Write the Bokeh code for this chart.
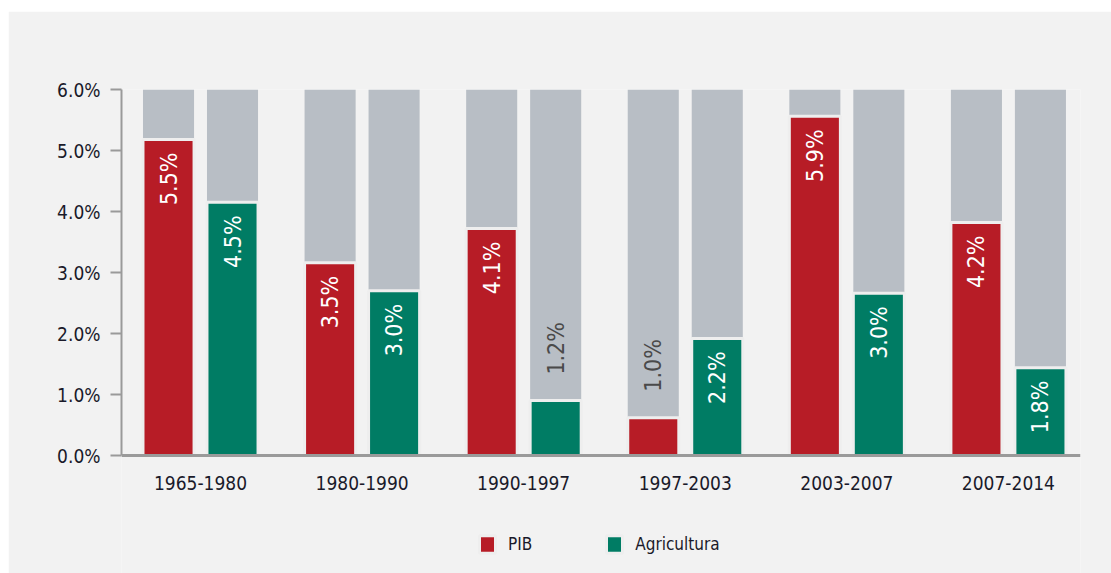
from bokeh.plotting import figure
from bokeh.models import (ColumnDataSource, Range1d, FixedTicker, Legend, LegendItem)
from bokeh.core.properties import value
from bokeh.embed import file_html
from bokeh.resources import INLINE

# ---- data ----
periods = ["1965-1980", "1980-1990", "1990-1997", "1997-2003", "2003-2007", "2007-2014"]
pib_values = [5.18, 3.16, 3.72, 0.62, 5.56, 3.82]
agri_values = [4.15, 2.70, 0.90, 1.92, 2.66, 1.44]
pib_labels = ["5.5%", "3.5%", "4.1%", "1.0%", "5.9%", "4.2%"]
agri_labels = ["4.5%", "3.0%", "1.2%", "2.2%", "3.0%", "1.8%"]
axis_max = 6.0
y_ticks = [0, 1, 2, 3, 4, 5, 6]

FONT = "DejaVu Sans Condensed"
RED = "#b71c26"
GREEN = "#007c64"
GRAY = "#b8bec5"
BG = "#f2f2f2"

offset = 0.198
bar_w = 0.316
idx = list(range(len(periods)))

# frame extends below zero to leave room for category labels and legend
p = figure(width=1103, height=562, output_backend="svg", toolbar_location=None,
           x_range=Range1d(-0.489, 5.446), y_range=Range1d(-1.934, axis_max),
           min_border_left=113, min_border_right=31, min_border_top=78, min_border_bottom=0)
p.margin = (11, 0, 0, 8)
p.background_fill_color = BG
p.border_fill_color = BG
p.outline_line_color = None
p.xgrid.visible = False
p.ygrid.visible = False

xs_red = [i - offset for i in idx]
xs_green = [i + offset for i in idx]

# gray background bars up to axis max
gsrc = ColumnDataSource(dict(x=xs_red + xs_green, top=[axis_max] * (2 * len(idx))))
p.vbar(x="x", top="top", bottom=0, width=bar_w, source=gsrc, fill_color=GRAY,
       line_color=None)

rsrc = ColumnDataSource(dict(x=xs_red, top=pib_values, label=pib_labels))
gnsrc = ColumnDataSource(dict(x=xs_green, top=agri_values, label=agri_labels))
r_red = p.vbar(x="x", top="top", bottom=0, width=bar_w, source=rsrc, fill_color=RED,
               line_color="#eeeeee", line_width=3)
r_green = p.vbar(x="x", top="top", bottom=0, width=bar_w, source=gnsrc, fill_color=GREEN,
                 line_color="#eeeeee", line_width=3)

# labels
def split(xs, vals, labels):
    inside = dict(x=[], y=[], t=[])
    outside = dict(x=[], y=[], t=[])
    for x, v, t in zip(xs, vals, labels):
        d = inside if v > 1.2 else outside
        d["x"].append(x); d["y"].append(v); d["t"].append(t)
    return inside, outside

ins_r, out_r = split(xs_red, pib_values, pib_labels)
ins_g, out_g = split(xs_green, agri_values, agri_labels)
ins = {k: ins_r[k] + ins_g[k] for k in ins_r}
outs = {k: out_r[k] + out_g[k] for k in out_r}

p.text(x="x", y="y", text="t", source=ColumnDataSource(ins), angle=1.5708,
       text_align="right", text_baseline="middle", y_offset=13,
       text_color="white", text_font=value(FONT), text_font_size="23px")
p.text(x="x", y="y", text="t", source=ColumnDataSource(outs), angle=1.5708,
       text_align="left", text_baseline="middle", y_offset=-26,
       text_color="#4a4a4a", text_font=value(FONT), text_font_size="23px")

# axes
p.xaxis.fixed_location = 0
p.xaxis.ticker = FixedTicker(ticks=idx)
p.xaxis.major_label_overrides = {i: periods[i] for i in idx}
p.xaxis.major_tick_line_color = None
p.xaxis.minor_tick_line_color = None
p.xaxis.axis_line_color = "#9a9a9a"
p.xaxis.axis_line_width = 3
p.xaxis.major_label_text_font = FONT
p.xaxis.major_label_text_font_size = "19px"
p.xaxis.major_label_text_color = "#1a1a2a"
p.xaxis.major_label_standoff = 14

p.yaxis.ticker = FixedTicker(ticks=y_ticks)
p.yaxis.bounds = (0, axis_max)
p.yaxis.major_label_overrides = {t: f"{t:.1f}%" for t in y_ticks}
p.yaxis.major_tick_out = 11
p.yaxis.major_tick_in = 0
p.yaxis.minor_tick_line_color = None
p.yaxis.major_tick_line_color = "#9a9a9a"
p.yaxis.major_tick_line_width = 2
p.yaxis.axis_line_color = "#9a9a9a"
p.yaxis.axis_line_width = 2
p.yaxis.major_label_text_font = FONT
p.yaxis.major_label_text_font_size = "19px"
p.yaxis.major_label_text_color = "#1a1a2a"
p.yaxis.major_label_standoff = 10

legend = Legend(items=[LegendItem(label="PIB", renderers=[r_red]),
                       LegendItem(label="Agricultura", renderers=[r_green])],
                orientation="horizontal", location=(356, 18),
                glyph_width=20, glyph_height=22, label_standoff=11, spacing=72,
                padding=0, margin=0, background_fill_alpha=0, border_line_alpha=0,
                label_text_font=FONT, label_text_font_size="17px",
                label_text_color="#1a1a2a")
p.add_layout(legend, "center")

open("out.html", "w").write(file_html(p, INLINE))
